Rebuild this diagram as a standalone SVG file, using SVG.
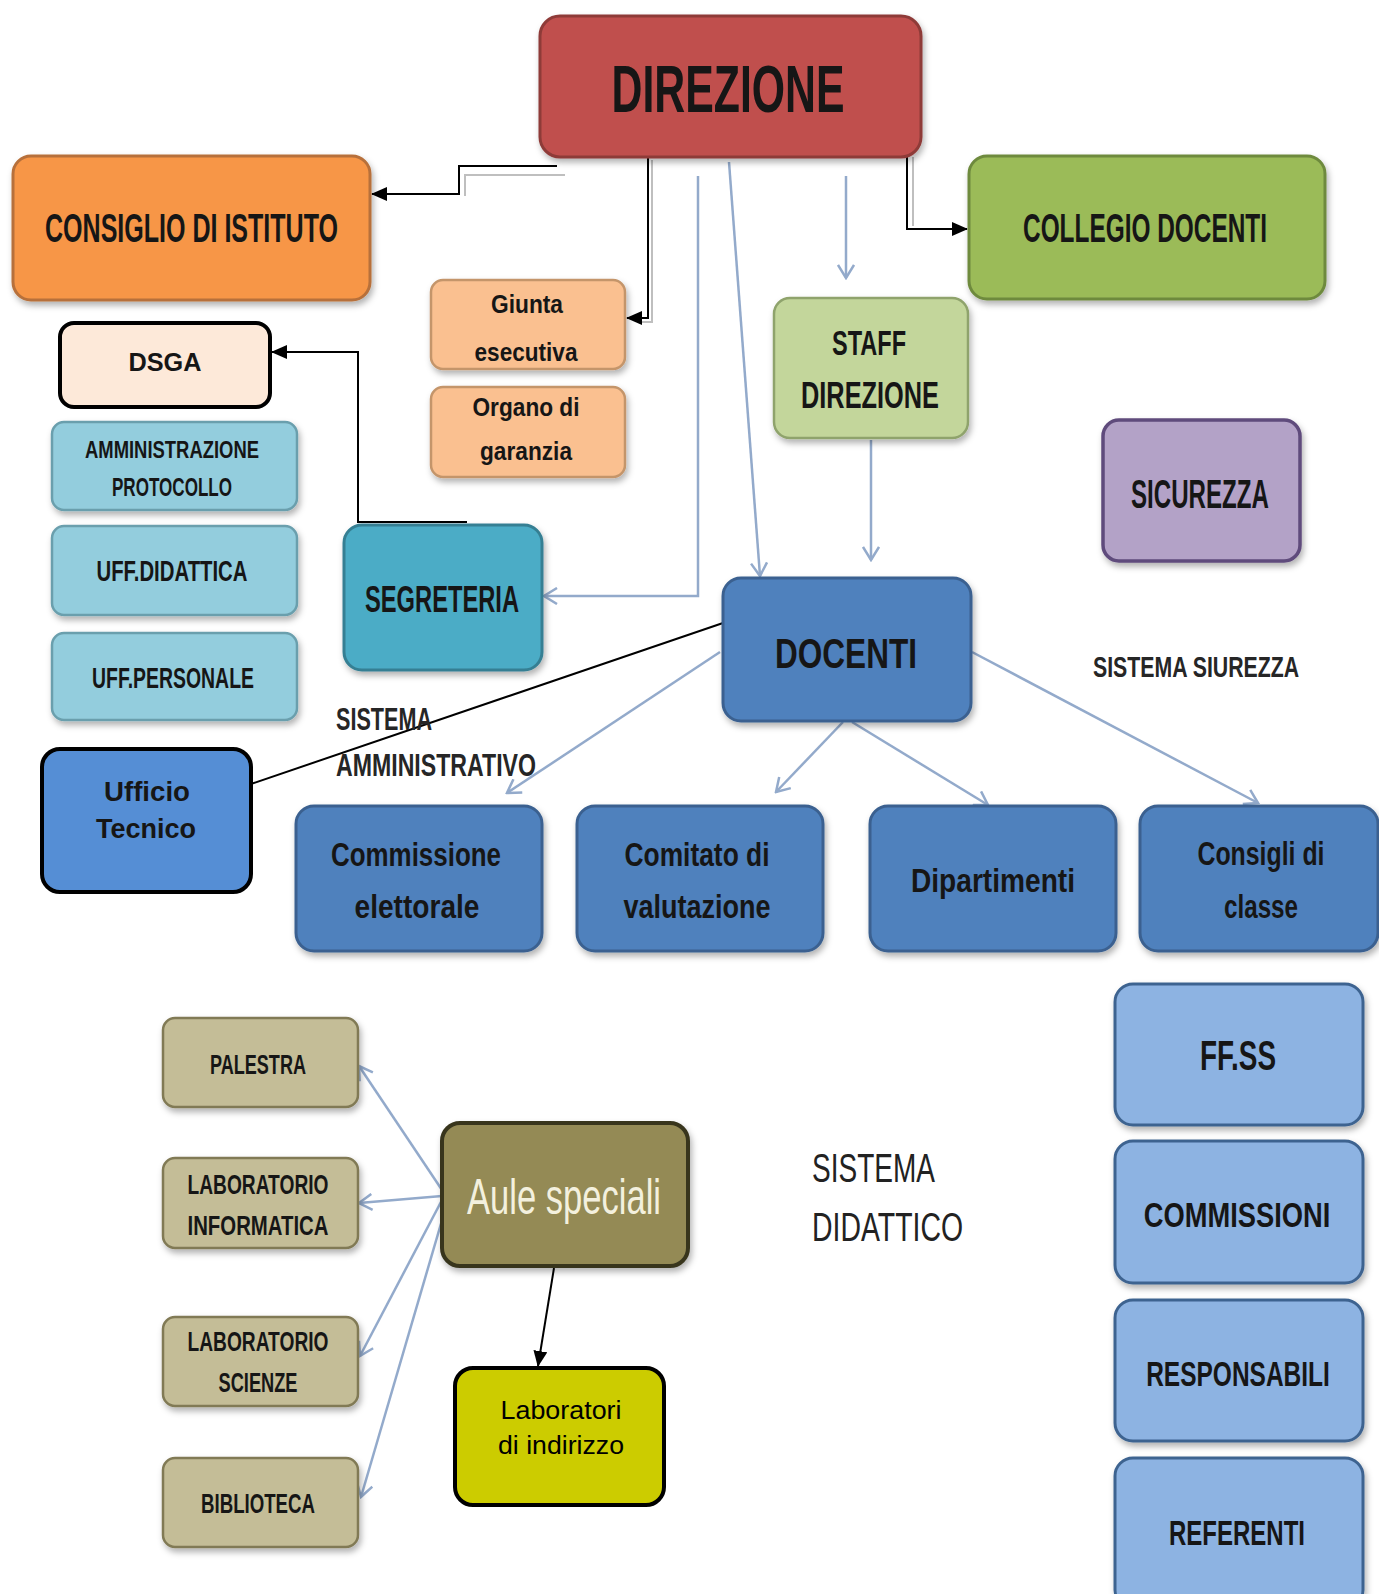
<svg xmlns="http://www.w3.org/2000/svg" width="1379" height="1594" viewBox="0 0 1379 1594">
<defs>
<filter id="sh" x="-10%" y="-10%" width="125%" height="130%"><feDropShadow dx="2" dy="4" stdDeviation="3" flood-color="#000" flood-opacity="0.3"/></filter>
<marker id="ab" markerUnits="userSpaceOnUse" markerWidth="16" markerHeight="14" refX="15" refY="7" orient="auto"><path d="M0,0 L16,7 L0,14 Z" fill="#000"/></marker>
<marker id="ao" markerUnits="userSpaceOnUse" markerWidth="16" markerHeight="18" refX="14" refY="9" orient="auto"><path d="M1,1 L14,9 L1,17" fill="none" stroke="#93AACB" stroke-width="2.5"/></marker>
<style>
.b{font-family:"Liberation Sans",Arial,sans-serif;font-weight:bold;fill:#161616;text-anchor:middle}
.r{font-family:"Liberation Sans",Arial,sans-serif;font-weight:normal;text-anchor:middle}
.s{font-family:"Liberation Sans",Arial,sans-serif;font-weight:bold;fill:#262626;text-anchor:start}
.bl{stroke:#000;stroke-width:2;fill:none}
.gr{stroke:#BFBFBF;stroke-width:2;fill:none}
.lb{stroke:#93AACB;stroke-width:2.5;fill:none}
.red{fill:#C0504D;stroke:#8E3B39;stroke-width:3}
.ora{fill:#F79646;stroke:#B7703A;stroke-width:3}
.pea{fill:#FAC090;stroke:#C4956B;stroke-width:2.5}
.grn{fill:#9BBB59;stroke:#6E8A3E;stroke-width:3}
.lgr{fill:#C3D69B;stroke:#8FA36C;stroke-width:2.5}
.pur{fill:#B3A2C7;stroke:#5F4B7C;stroke-width:3.5}
.cy{fill:#93CDDD;stroke:#6B9FAD;stroke-width:2.5}
.tea{fill:#4BACC6;stroke:#367F93;stroke-width:3}
.blu{fill:#4F81BD;stroke:#3A6190;stroke-width:3}
.lbl{fill:#8DB3E2;stroke:#3E6390;stroke-width:3}
.tan{fill:#C4BD97;stroke:#817A55;stroke-width:2.5}
</style>
</defs>
<rect width="1379" height="1594" fill="#fff"/>

<g id="connectors">
<path class="gr" d="M565,175 H465 V196"/>
<path class="bl" d="M557,166 H459 V194 H372" marker-end="url(#ab)"/>
<path class="gr" d="M652,160 V322 H640"/>
<path class="bl" d="M648,155 V318 H627" marker-end="url(#ab)"/>
<path class="gr" d="M913,157 V226"/>
<path class="bl" d="M907,145 V229 H967" marker-end="url(#ab)"/>
<path class="bl" d="M467,522 H358 V352 H272" marker-end="url(#ab)"/>
<path class="bl" d="M723,623 L251,784"/>
<path class="bl" d="M554,1268 L538,1366" marker-end="url(#ab)"/>
<path class="lb" d="M698,176 V596 H544" marker-end="url(#ao)"/>
<path class="lb" d="M729,162 L760,576" marker-end="url(#ao)"/>
<path class="lb" d="M846,176 V278" marker-end="url(#ao)"/>
<path class="lb" d="M871,440 V560" marker-end="url(#ao)"/>
<path class="lb" d="M720,652 L507,793" marker-end="url(#ao)"/>
<path class="lb" d="M843,722 L776,792" marker-end="url(#ao)"/>
<path class="lb" d="M852,722 L988,805" marker-end="url(#ao)"/>
<path class="lb" d="M972,652 L1258,803" marker-end="url(#ao)"/>
<path class="lb" d="M442,1190 L359,1066" marker-end="url(#ao)"/>
<path class="lb" d="M442,1196 L359,1203" marker-end="url(#ao)"/>
<path class="lb" d="M442,1200 L360,1356" marker-end="url(#ao)"/>
<path class="lb" d="M445,1210 L361,1497" marker-end="url(#ao)"/>
</g>

<g id="direzione"><rect class="red" x="540" y="16" width="381" height="141" rx="20" filter="url(#sh)"/><text class="b" x="728" y="112" font-size="66" textLength="233" lengthAdjust="spacingAndGlyphs">DIREZIONE</text></g>
<g id="consiglio"><rect class="ora" x="13" y="156" width="357" height="144" rx="18" filter="url(#sh)"/><text class="b" x="191.5" y="242" font-size="40" textLength="293" lengthAdjust="spacingAndGlyphs">CONSIGLIO DI ISTITUTO</text></g>
<g id="collegio"><rect class="grn" x="969" y="156" width="356" height="143" rx="18" filter="url(#sh)"/><text class="b" transform="translate(1145,242) scale(0.61,1)" x="0" y="0" font-size="40">COLLEGIO DOCENTI</text></g>
<g id="giunta"><rect class="pea" x="431" y="280" width="194" height="89" rx="12" filter="url(#sh)"/><text class="b" x="527" y="313" font-size="25" textLength="72" lengthAdjust="spacingAndGlyphs">Giunta</text><text class="b" x="526" y="361" font-size="25" textLength="103" lengthAdjust="spacingAndGlyphs">esecutiva</text></g>
<g id="organo"><rect class="pea" x="431" y="387" width="194" height="90" rx="12" filter="url(#sh)"/><text class="b" x="526" y="416" font-size="25" textLength="107" lengthAdjust="spacingAndGlyphs">Organo di</text><text class="b" x="526" y="460" font-size="25" textLength="92" lengthAdjust="spacingAndGlyphs">garanzia</text></g>
<g id="staff"><rect class="lgr" x="774" y="298" width="194" height="140" rx="16" filter="url(#sh)"/><text class="b" x="869" y="355" font-size="35" textLength="74" lengthAdjust="spacingAndGlyphs">STAFF</text><text class="b" x="870" y="408" font-size="37" textLength="138" lengthAdjust="spacingAndGlyphs">DIREZIONE</text></g>
<g id="sicurezza"><rect class="pur" x="1103" y="420" width="197" height="141" rx="16" filter="url(#sh)"/><text class="b" x="1200" y="508" font-size="40" textLength="138" lengthAdjust="spacingAndGlyphs">SICUREZZA</text></g>
<g id="dsga"><rect x="60" y="323" width="210" height="84" rx="14" fill="#FDE9D9" stroke="#000" stroke-width="4"/><text class="b" x="165" y="371" font-size="25" fill="#000" textLength="73" lengthAdjust="spacingAndGlyphs">DSGA</text></g>
<g id="amministrazione"><rect class="cy" x="52" y="422" width="245" height="88" rx="12" filter="url(#sh)"/><text class="b" x="172" y="458" font-size="24" textLength="174" lengthAdjust="spacingAndGlyphs">AMMINISTRAZIONE</text><text class="b" x="172" y="496" font-size="26" textLength="120" lengthAdjust="spacingAndGlyphs">PROTOCOLLO</text></g>
<g id="uff-didattica"><rect class="cy" x="52" y="526" width="245" height="89" rx="12" filter="url(#sh)"/><text class="b" x="172" y="581" font-size="29" textLength="151" lengthAdjust="spacingAndGlyphs">UFF.DIDATTICA</text></g>
<g id="uff-personale"><rect class="cy" x="52" y="633" width="245" height="87" rx="12" filter="url(#sh)"/><text class="b" x="173" y="688" font-size="29" textLength="162" lengthAdjust="spacingAndGlyphs">UFF.PERSONALE</text></g>
<g id="segreteria"><rect class="tea" x="344" y="525" width="198" height="145" rx="18" filter="url(#sh)"/><text class="b" x="442" y="612" font-size="37" textLength="154" lengthAdjust="spacingAndGlyphs">SEGRETERIA</text></g>
<g id="sistema-amministrativo"><text class="s" x="336" y="730" font-size="31" textLength="96" lengthAdjust="spacingAndGlyphs">SISTEMA</text><text class="s" x="336" y="776" font-size="31" textLength="200" lengthAdjust="spacingAndGlyphs">AMMINISTRATIVO</text></g>
<g id="ufficio-tecnico"><rect x="42" y="749" width="209" height="143" rx="18" fill="#558ED5" stroke="#000" stroke-width="4"/><text class="b" x="147" y="801" font-size="28" fill="#000" textLength="86" lengthAdjust="spacingAndGlyphs">Ufficio</text><text class="b" x="146" y="838" font-size="28" fill="#000" textLength="100" lengthAdjust="spacingAndGlyphs">Tecnico</text></g>
<g id="docenti"><rect class="blu" x="723" y="578" width="248" height="143" rx="18" filter="url(#sh)"/><text class="b" x="846" y="668" font-size="43" fill="#0E1626" textLength="142" lengthAdjust="spacingAndGlyphs">DOCENTI</text></g>
<g id="sistema-sicurezza"><text class="s" transform="translate(1093,677) scale(0.71,1)" x="0" y="0" font-size="30">SISTEMA SIUREZZA</text></g>
<g id="commissione-elettorale"><rect class="blu" x="296" y="806" width="246" height="145" rx="18" filter="url(#sh)"/><text class="b" x="416" y="866" font-size="33" fill="#0E1626" textLength="170" lengthAdjust="spacingAndGlyphs">Commissione</text><text class="b" x="417" y="918" font-size="33" fill="#0E1626" textLength="125" lengthAdjust="spacingAndGlyphs">elettorale</text></g>
<g id="comitato-valutazione"><rect class="blu" x="577" y="806" width="246" height="145" rx="18" filter="url(#sh)"/><text class="b" x="697" y="866" font-size="33" fill="#0E1626" textLength="145" lengthAdjust="spacingAndGlyphs">Comitato di</text><text class="b" x="697" y="918" font-size="33" fill="#0E1626" textLength="147" lengthAdjust="spacingAndGlyphs">valutazione</text></g>
<g id="dipartimenti"><rect class="blu" x="870" y="806" width="246" height="145" rx="18" filter="url(#sh)"/><text class="b" x="993" y="892" font-size="33" fill="#0E1626" textLength="164" lengthAdjust="spacingAndGlyphs">Dipartimenti</text></g>
<g id="consigli-classe"><rect class="blu" x="1140" y="806" width="238" height="145" rx="18" filter="url(#sh)"/><text class="b" x="1261" y="865" font-size="33" fill="#0E1626" textLength="127" lengthAdjust="spacingAndGlyphs">Consigli di</text><text class="b" x="1261" y="918" font-size="33" fill="#0E1626" textLength="74" lengthAdjust="spacingAndGlyphs">classe</text></g>
<g id="ffss"><rect class="lbl" x="1115" y="984" width="248" height="141" rx="18" filter="url(#sh)"/><text class="b" x="1238" y="1070" font-size="43" fill="#0E1626" textLength="76" lengthAdjust="spacingAndGlyphs">FF.SS</text></g>
<g id="commissioni"><rect class="lbl" x="1115" y="1141" width="248" height="142" rx="18" filter="url(#sh)"/><text class="b" transform="translate(1237,1227) scale(0.78,1)" x="0" y="0" font-size="35" fill="#0E1626">COMMISSIONI</text></g>
<g id="responsabili"><rect class="lbl" x="1115" y="1300" width="248" height="141" rx="18" filter="url(#sh)"/><text class="b" transform="translate(1238,1386) scale(0.70,1)" x="0" y="0" font-size="35" fill="#0E1626">RESPONSABILI</text></g>
<g id="referenti"><rect class="lbl" x="1115" y="1458" width="248" height="150" rx="18" filter="url(#sh)"/><text class="b" x="1237" y="1545" font-size="35" fill="#0E1626" textLength="136" lengthAdjust="spacingAndGlyphs">REFERENTI</text></g>
<g id="sistema-didattico"><text class="r" x="812" y="1182" font-size="40" fill="#222" textLength="123" lengthAdjust="spacingAndGlyphs" style="text-anchor:start">SISTEMA</text><text class="r" x="812" y="1241" font-size="40" fill="#222" textLength="151" lengthAdjust="spacingAndGlyphs" style="text-anchor:start">DIDATTICO</text></g>
<g id="palestra"><rect class="tan" x="163" y="1018" width="195" height="89" rx="12" filter="url(#sh)"/><text class="b" x="258" y="1074" font-size="27" textLength="96" lengthAdjust="spacingAndGlyphs">PALESTRA</text></g>
<g id="lab-informatica"><rect class="tan" x="163" y="1158" width="195" height="90" rx="12" filter="url(#sh)"/><text class="b" x="258" y="1194" font-size="27" textLength="141" lengthAdjust="spacingAndGlyphs">LABORATORIO</text><text class="b" x="258" y="1235" font-size="27" textLength="141" lengthAdjust="spacingAndGlyphs">INFORMATICA</text></g>
<g id="lab-scienze"><rect class="tan" x="163" y="1317" width="195" height="89" rx="12" filter="url(#sh)"/><text class="b" x="258" y="1351" font-size="27" textLength="141" lengthAdjust="spacingAndGlyphs">LABORATORIO</text><text class="b" x="258" y="1392" font-size="27" textLength="79" lengthAdjust="spacingAndGlyphs">SCIENZE</text></g>
<g id="biblioteca"><rect class="tan" x="163" y="1458" width="195" height="89" rx="12" filter="url(#sh)"/><text class="b" x="258" y="1513" font-size="27" textLength="114" lengthAdjust="spacingAndGlyphs">BIBLIOTECA</text></g>
<g id="aule-speciali"><rect x="442" y="1123" width="246" height="143" rx="18" fill="#948A54" stroke="#38361F" stroke-width="4" filter="url(#sh)"/><text class="r" x="564" y="1214" font-size="50" fill="#F3F0DE" textLength="194" lengthAdjust="spacingAndGlyphs">Aule speciali</text></g>
<g id="laboratori-indirizzo"><rect x="455" y="1368" width="209" height="137" rx="18" fill="#CCCC00" stroke="#000" stroke-width="4"/><text class="r" x="561" y="1419" font-size="26" fill="#000" textLength="121" lengthAdjust="spacingAndGlyphs">Laboratori</text><text class="r" x="561" y="1454" font-size="26" fill="#000" textLength="126" lengthAdjust="spacingAndGlyphs">di indirizzo</text></g>
</svg>
